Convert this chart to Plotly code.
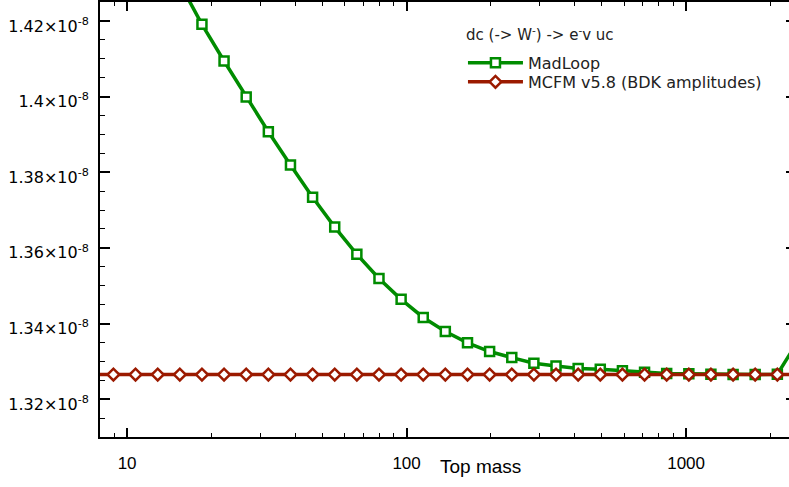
import plotly.graph_objects as go

# Top mass values (GeV) for the scan points
top_mass = [7.446, 8.935, 10.72, 12.87, 15.44, 18.53, 22.23, 26.68, 32.02, 38.42,
            46.10, 55.32, 66.39, 79.66, 95.60, 114.7, 137.6, 165.2, 198.2, 237.9,
            285.4, 342.5, 411.0, 493.2, 591.9, 710.3, 852.3, 1023.0, 1227.0, 1473.0,
            1767.0, 2121.0, 2545.0]

# MadLoop points (start at 15.44 GeV; earlier ones are above the frame)
madloop_mass = top_mass[4:]
madloop = [1.4299e-8, 1.4191e-8, 1.4094e-8, 1.3999e-8, 1.3907e-8, 1.3819e-8,
           1.3734e-8, 1.3655e-8, 1.3583e-8, 1.3519e-8, 1.3464e-8, 1.3416e-8,
           1.3379e-8, 1.3349e-8, 1.3326e-8, 1.3310e-8, 1.3295e-8, 1.3288e-8,
           1.3281e-8, 1.3279e-8, 1.3275e-8, 1.3271e-8, 1.3268e-8, 1.3267e-8,
           1.3266e-8, 1.3265e-8, 1.3265e-8, 1.3266e-8, 1.3360e-8]

# MCFM v5.8 (BDK amplitudes) - flat
mcfm = [1.3265e-8, 1.3265e-8, 1.3265e-8, 1.3265e-8, 1.3265e-8, 1.3265e-8,
        1.3265e-8, 1.3265e-8, 1.3265e-8, 1.3265e-8, 1.3265e-8, 1.3265e-8,
        1.3265e-8, 1.3265e-8, 1.3265e-8, 1.3265e-8, 1.3265e-8, 1.3265e-8,
        1.3265e-8, 1.3265e-8, 1.3265e-8, 1.3265e-8, 1.3265e-8, 1.3265e-8,
        1.3265e-8, 1.3265e-8, 1.3265e-8, 1.3265e-8, 1.3265e-8, 1.3265e-8,
        1.3265e-8, 1.3265e-8, 1.3265e-8]

y_tickvals = [1.32e-8, 1.34e-8, 1.36e-8, 1.38e-8, 1.40e-8, 1.42e-8]
y_ticktext = ["1.32×10<sup>-8</sup>", "1.34×10<sup>-8</sup>", "1.36×10<sup>-8</sup>",
              "1.38×10<sup>-8</sup>", "1.4×10<sup>-8</sup>", "1.42×10<sup>-8</sup>"]
x_tickvals = [10, 100, 1000]
x_ticktext = ["10", "100", "1000"]
x_minor = [8, 9, 20, 30, 40, 50, 60, 70, 80, 90, 200, 300, 400, 500, 600, 700, 800, 900, 2000]

legend_title = "dc (-> W<sup>-</sup>) -> e<sup>-</sup>v uc"

GREEN = "#008c00"
RED = "#9b1a00"

W = 798  # figure is a bit wider than the 789px window; the right frame falls outside
PW = W - 100

fig = go.Figure()
fig.add_trace(go.Scatter(
    x=madloop_mass, y=madloop, mode="lines+markers", name="MadLoop",
    line=dict(color=GREEN, width=3.5),
    marker=dict(symbol="square", size=9, color="white", line=dict(color=GREEN, width=2.5)),
    legend="legend",
))
fig.add_trace(go.Scatter(
    x=top_mass, y=mcfm, mode="lines+markers", name="MCFM v5.8 (BDK amplitudes)",
    line=dict(color=RED, width=3.5),
    marker=dict(symbol="diamond", size=9, color="white", line=dict(color=RED, width=2.5)),
    legend="legend2",
))

leg_common = dict(
    xanchor="left", yanchor="middle",
    bgcolor="rgba(0,0,0,0)", borderwidth=0,
    font=dict(family="DejaVu Sans", size=16, color="#222"),
    itemwidth=55,
)

fig.update_layout(
    width=W, height=487,
    margin=dict(l=100, r=0, t=1, b=50),
    paper_bgcolor="white", plot_bgcolor="white",
    font=dict(family="DejaVu Sans", size=16, color="black"),
    showlegend=True,
    legend=dict(x=(464 - 100) / PW, y=(436.5 - 62) / 435.5, **leg_common),
    legend2=dict(x=(464 - 100) / PW, y=(436.5 - 81) / 435.5, **leg_common),
    annotations=[
        dict(text="Top mass", xref="paper", yref="paper",
             x=(482 - 100) / PW, y=-(466 - 436.5) / 435.5, xanchor="center", yanchor="middle",
             showarrow=False, font=dict(family="Liberation Sans", size=19, color="black")),
        dict(text=legend_title, xref="paper", yref="paper",
             x=(465 - 100) / PW, y=(436.5 - 33) / 435.5, xanchor="left", yanchor="middle",
             showarrow=False, font=dict(family="DejaVu Sans", size=15, color="#222")),
    ],
)

fig.update_xaxes(
    type="log", range=[0.9031, 0.9031 + PW / 280.3],
    showgrid=False, zeroline=False,
    showline=True, linecolor="black", linewidth=2, mirror="ticks",
    ticks="inside", ticklen=9, tickwidth=2, tickcolor="black",
    tickvals=x_tickvals, ticktext=x_ticktext,
    tickfont=dict(family="Liberation Sans", size=17, color="black"),
    ticklabelstandoff=10,
    minor=dict(tickvals=x_minor, ticks="inside", ticklen=4, tickwidth=1, tickcolor="black", showgrid=False),
)
fig.update_yaxes(
    range=[1.31e-8, 1.425e-8],
    showgrid=False, zeroline=False,
    showline=True, linecolor="black", linewidth=2, mirror="ticks",
    ticks="inside", ticklen=10, tickwidth=2, tickcolor="black",
    tickvals=y_tickvals, ticktext=y_ticktext,
    tickfont=dict(family="DejaVu Sans", size=16, color="black"),
    ticklabelstandoff=6, ticklabelshift=5,
    minor=dict(dtick=0.005e-8, tick0=0, ticks="inside", ticklen=5, tickwidth=1, tickcolor="black", showgrid=False),
)

fig.write_html("out.html", config={"displayModeBar": False},
               post_script="document.body.style.margin='0';document.body.style.overflow='hidden';")
